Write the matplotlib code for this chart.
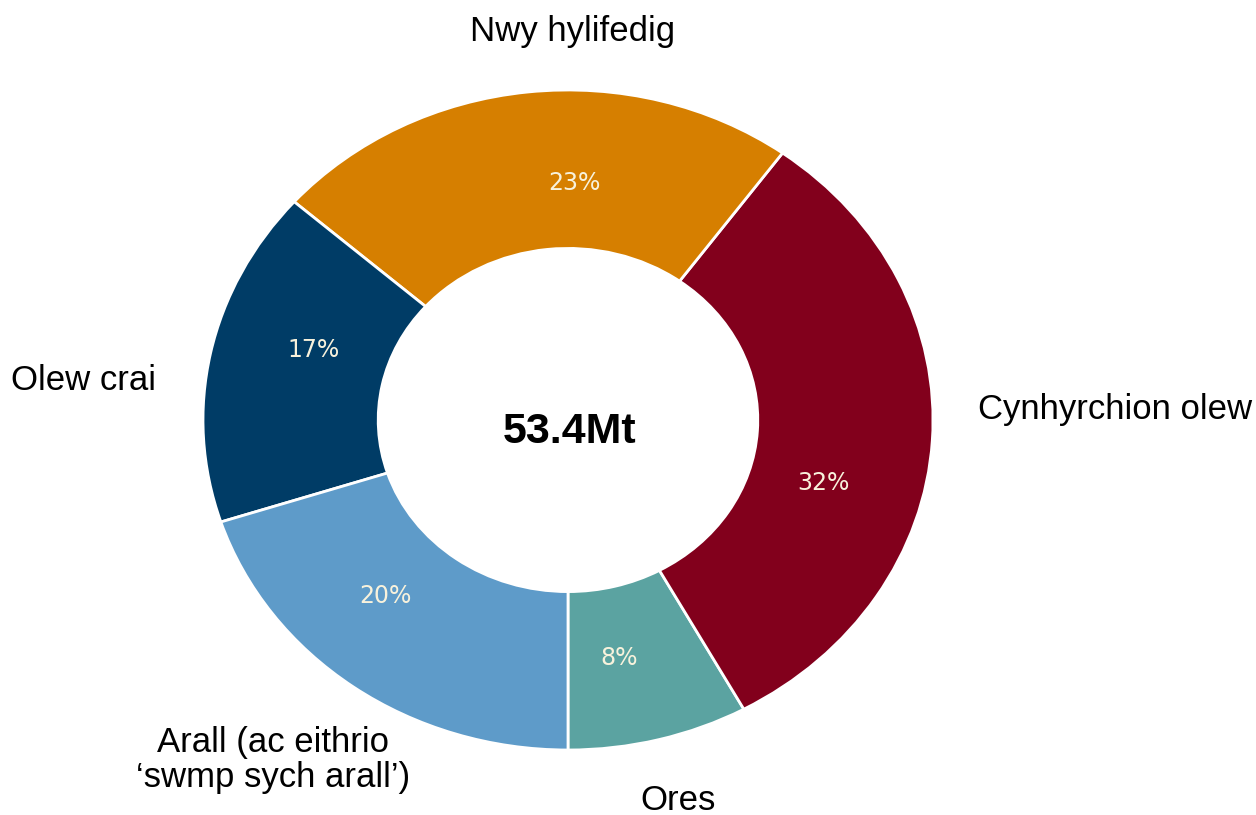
import matplotlib
matplotlib.use("Agg")
import matplotlib.pyplot as plt

categories = ["Ores", "Cynhyrchion olew", "Nwy hylifedig", "Olew crai",
              "Arall (ac eithrio\n\u2018swmp sych arall\u2019)"]
values = [8, 32, 23.5, 16.5, 20]
pct_labels = ["8%", "32%", "23%", "17%", "20%"]
colors = ["#5BA3A1", "#82001C", "#D67F00", "#003C66", "#5E9BC9"]
total_label = "53.4Mt"

W, H = 1256, 815
cx, cy = 568, 420        # pixel centre
rx, ry = 365, 330        # pixel radii

fig = plt.figure(figsize=(W / 100, H / 100), dpi=100)
ax = fig.add_axes([0, 0, 1, 1])

wedges, _ = ax.pie(values, colors=colors, startangle=-90, counterclock=True,
                   radius=1.0,
                   wedgeprops=dict(width=0.48, edgecolor="white", linewidth=2))
ax.set_aspect("auto")
ax.set_xlim(-cx / rx, (W - cx) / rx)
ax.set_ylim(-(H - cy) / ry, cy / ry)
ax.axis("off")


def px(x, y):
    return ((x - cx) / rx, (cy - y) / ry)


# percentage labels
pct_pos = [(619, 658), (823, 483), (574, 183), (314, 350), (385, 596)]
for lab, (x, y) in zip(pct_labels, pct_pos):
    ax.text(*px(x, y), lab, ha="center", va="center", fontsize=17,
            color="#F8F2DC", family="DejaVu Sans")

# category labels
cat_pos = [(678, 800), (1115, 410), (573, 32), (83, 380), (273, 760)]
for lab, (x, y) in zip(categories, cat_pos):
    ax.text(*px(x, y), lab, ha="center", va="center", fontsize=25,
            color="black", family="Liberation Sans", linespacing=1.05)

ax.text(*px(570, 432), total_label, ha="center", va="center", fontsize=31,
        fontweight="bold", color="black", family="Liberation Sans")

fig.savefig("out.png", dpi=100)
